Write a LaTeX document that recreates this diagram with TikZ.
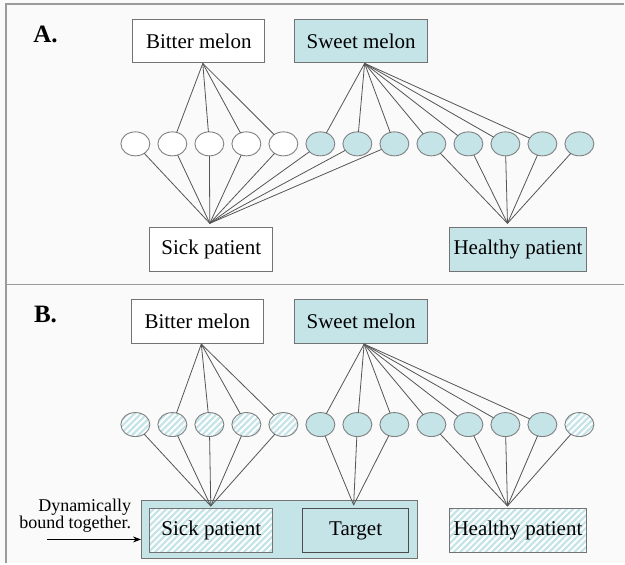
\documentclass[tikz,border=0pt]{standalone}
\usepackage{fontspec}
\setmainfont{Liberation Serif}
\usetikzlibrary{matrix,shapes.geometric,patterns.meta,arrows.meta,positioning}
\definecolor{melonblue}{RGB}{197,228,232}
\definecolor{panelbg}{RGB}{250,250,250}
\definecolor{framegray}{RGB}{155,155,155}
\definecolor{wiregray}{RGB}{85,85,85}

\begin{document}
\begin{tikzpicture}[x=1pt, y=-1pt,
	box/.style={draw=black!55, line width=0.9pt, minimum height=44pt, inner sep=0pt, font=\fontsize{21}{24}\selectfont},
	plainbox/.style={box, fill=white},
	bluebox/.style={box, fill=melonblue},
	hatchbox/.style={box, preaction={fill=melonblue}, pattern={Lines[angle=45, distance=4.5pt, line width=2pt]}, pattern color=white},
	ball/.style={ellipse, draw=black!50, line width=0.9pt, minimum width=29pt, minimum height=24pt, inner sep=0pt, outer sep=0pt},
	plainball/.style={ball, fill=white},
	blueball/.style={ball, fill=melonblue},
	hatchball/.style={ball, preaction={fill=melonblue}, pattern={Lines[angle=45, distance=4.5pt, line width=2pt]}, pattern color=white},
	wire/.style={draw=wiregray, line width=0.8pt},
	panel label/.style={font=\fontsize{25}{28}\selectfont\bfseries},
	note/.style={font=\fontsize{18}{17}\selectfont, align=right, inner sep=0pt}]
	\fill[panelbg] (0,0) rectangle (625,564);
	\draw[framegray, line width=1.3pt] (625,4) -- (6,4) -- (6,564) (6,285) -- (625,285);

	% panel A
	\node[panel label] (labelA) at (45.5,34) {A.};
	\node[plainbox, minimum width=132pt] (bitterA) at (199,41) {Bitter melon};
	\node[bluebox, minimum width=133pt] (sweetA) at (361.5,41) {Sweet melon};
	\matrix[matrix of nodes, name=ra, nodes in empty cells, nodes={plainball}, column sep={37.04pt,between origins}] at (357.75,144) {
		&&&&& |[blueball]| & |[blueball]| & |[blueball]| & |[blueball]| & |[blueball]| & |[blueball]| & |[blueball]| & |[blueball]| \\ };
	\node[plainbox, minimum width=123pt] (sickA) at (211.5,250) {Sick patient};
	\node[bluebox, minimum width=138pt] (healthyA) at (518.5,250) {Healthy patient};
	\coordinate (bitterA-out) at ([xshift=4pt]bitterA.south);
	\coordinate (sweetA-out) at ([xshift=3.5pt]sweetA.south);
	\coordinate (sickA-in) at ([xshift=-1.5pt,yshift=4pt]sickA.north);
	\coordinate (healthyA-in) at ([xshift=-10.5pt,yshift=4pt]healthyA.north);
	\path[wire]
	(bitterA-out) edge (ra-1-2) edge (ra-1-3) edge (ra-1-4) edge (ra-1-5)
	(sweetA-out) edge (ra-1-6) edge (ra-1-7) edge (ra-1-8) edge (ra-1-9) edge (ra-1-10) edge (ra-1-11) edge (ra-1-12)
	(sickA-in) edge (ra-1-1) edge (ra-1-2) edge (ra-1-3) edge (ra-1-4) edge (ra-1-5) edge (ra-1-6) edge (ra-1-7) edge (ra-1-8)
	(healthyA-in) edge (ra-1-9) edge (ra-1-10) edge (ra-1-11) edge (ra-1-12) edge (ra-1-13);

	% panel B
	\node[panel label] (labelB) at (45.5,315) {B.};
	\node[plainbox, minimum width=132pt] (bitterB) at (197.5,322) {Bitter melon};
	\node[bluebox, minimum width=133pt] (sweetB) at (361.5,322) {Sweet melon};
	\matrix[matrix of nodes, name=rb, nodes in empty cells, nodes={hatchball}, column sep={37.04pt,between origins}] at (357.75,425) {
		&&&&& |[blueball]| & |[blueball]| & |[blueball]| & |[blueball]| & |[blueball]| & |[blueball]| & |[blueball]| & \\ };
	\node[bluebox, minimum width=276pt, minimum height=58pt] (bound) at (279.6,530) {};
	\node[hatchbox, minimum width=123pt] (sickB) at (211.5,531) {Sick patient};
	\node[bluebox, draw=black!70, minimum width=106pt] (target) at (356,531) {Target};
	\node[hatchbox, minimum width=138pt] (healthyB) at (518.5,531) {Healthy patient};
	\node[note, anchor=east] (note) at (131.5,516) {Dynamically\\bound together.};
	\coordinate (note-tail) at (47,540);
	\draw[-{Stealth[length=8pt,width=6pt]}, line width=0.8pt] (note-tail) -- (note-tail -| bound.west);
	\coordinate (bitterB-out) at ([xshift=4pt]bitterB.south);
	\coordinate (sweetB-out) at ([xshift=3pt]sweetB.south);
	\coordinate (sickB-in) at ([xshift=-0.5pt,yshift=2pt]sickB.north);
	\coordinate (target-in) at ([xshift=-2pt,yshift=3pt]target.north);
	\coordinate (healthyB-in) at ([xshift=-10.5pt,yshift=2pt]healthyB.north);
	\path[wire]
	(bitterB-out) edge (rb-1-2) edge (rb-1-3) edge (rb-1-4) edge (rb-1-5)
	(sweetB-out) edge (rb-1-6) edge (rb-1-7) edge (rb-1-8) edge (rb-1-9) edge (rb-1-10) edge (rb-1-11) edge (rb-1-12)
	(sickB-in) edge (rb-1-1) edge (rb-1-2) edge (rb-1-3) edge (rb-1-4) edge (rb-1-5)
	(target-in) edge (rb-1-6) edge (rb-1-7) edge (rb-1-8)
	(healthyB-in) edge (rb-1-9) edge (rb-1-10) edge (rb-1-11) edge (rb-1-12) edge (rb-1-13);
\end{tikzpicture}
\end{document}
